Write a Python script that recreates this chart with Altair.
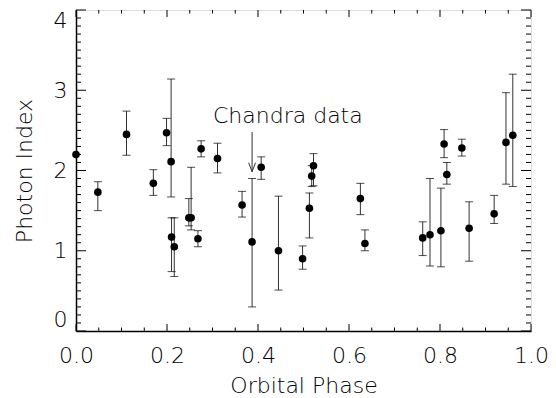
import altair as alt
import pandas as pd
import numpy as np

# ---- data ----
phase = [0.000, 0.048, 0.111, 0.170, 0.199, 0.209, 0.210, 0.216, 0.248, 0.253,
         0.268, 0.275, 0.311, 0.365, 0.387, 0.407, 0.445, 0.498, 0.513, 0.518,
         0.522, 0.625, 0.635, 0.762, 0.778, 0.802, 0.809, 0.815, 0.848, 0.864,
         0.919, 0.945, 0.960]
photon_index = [2.20, 1.73, 2.45, 1.84, 2.47, 2.11, 1.17, 1.05, 1.41, 1.41,
                1.15, 2.27, 2.15, 1.57, 1.11, 2.04, 1.00, 0.90, 1.53, 1.93,
                2.06, 1.65, 1.09, 1.16, 1.20, 1.25, 2.33, 1.95, 2.28, 1.28,
                1.46, 2.35, 2.44]
err_low = [None, 1.50, 2.19, 1.69, 2.31, 1.67, 0.74, 0.68, 1.31, 1.26,
           1.05, 2.17, 1.97, 1.42, 0.30, 1.89, 0.51, 0.77, 1.16, 1.80,
           1.81, 1.45, 1.00, 0.94, 0.81, 0.80, 2.16, 1.83, 2.18, 0.87,
           1.34, 1.83, 1.80]
err_high = [None, 1.86, 2.74, 2.01, 2.65, 3.14, 1.41, 1.41, 1.65, 2.04,
            1.25, 2.37, 2.34, 1.74, 1.90, 2.17, 1.68, 1.06, 1.72, 2.06,
            2.21, 1.84, 1.26, 1.36, 1.90, 1.78, 2.51, 2.10, 2.39, 1.61,
            1.69, 2.97, 3.20]

x_major = [0.0, 0.2, 0.4, 0.6, 0.8, 1.0]
y_major = [0, 1, 2, 3, 4]
x_minor = [round(v, 2) for v in np.arange(0.05, 1.0, 0.05) if round(v * 20) % 4 != 0]
y_minor = [round(v, 1) for v in np.arange(0.1, 4.0, 0.1) if round(v * 10) % 10 != 0]

annot_text = ["Chandra data"]
annot_phase = [0.301]
annot_value = [2.59]
arrow_phase = [0.387]
arrow_top = [2.48]
arrow_tip = [1.985]

# ---- tables ----
points = pd.DataFrame({"phase": phase, "value": photon_index,
                       "lower": err_low, "upper": err_high})
bars = points.dropna()
xmaj = pd.DataFrame({"phase": x_major})
xmin = pd.DataFrame({"phase": x_minor})
ymaj = pd.DataFrame({"value": y_major})
ymin = pd.DataFrame({"value": y_minor})
annot = pd.DataFrame({"phase": annot_phase, "value": annot_value, "label": annot_text})
arrow = pd.DataFrame({"phase": arrow_phase, "value": arrow_top, "tip": arrow_tip})

W, H = 455, 321
FONT = "DejaVu Sans"
FW = 200
TXT = "black"

xs = alt.Scale(domain=[0, 1], nice=False, zero=False)
ys = alt.Scale(domain=[0, 4], nice=False, zero=False)

x_axis = alt.Axis(values=x_major, format=".1f", title="Orbital Phase",
                  ticks=False, tickSize=0, grid=False, domain=True,
                  domainColor="black", domainWidth=1.5,
                  labelFont=FONT, labelFontSize=22, labelFontWeight=FW, labelColor=TXT,
                  labelPadding=14, labelFlush=False,
                  titleFont=FONT, titleFontSize=22, titleFontWeight=FW,
                  titleColor=TXT, titleY=61, titleBaseline="alphabetic")
y_axis = alt.Axis(values=y_major, format="d", title="Photon Index",
                  ticks=False, tickSize=0, grid=False, domain=True,
                  domainColor="black", domainWidth=1.5,
                  labelFont=FONT, labelFontSize=22, labelFontWeight=FW, labelColor=TXT,
                  labelPadding=9, labelFlush=True,
                  titleFont=FONT, titleFontSize=22, titleFontWeight=FW,
                  titleColor=TXT, titleX=-52, titleBaseline="middle")


def X(field="phase"):
    return alt.X(f"{field}:Q", scale=xs, axis=x_axis)


def Y(field="value"):
    return alt.Y(f"{field}:Q", scale=ys, axis=y_axis)


dots = alt.Chart(points).mark_circle(size=58, color="black", opacity=1).encode(
    x=X(), y=Y())

err_lines = alt.Chart(bars).mark_rule(color="#333333", strokeWidth=1).encode(
    x=X(), y=Y("lower"), y2="upper:Q")
cap_lo = alt.Chart(bars).mark_tick(orient="horizontal", size=8, thickness=1,
                                   color="black").encode(x=X(), y=Y("lower"))
cap_hi = alt.Chart(bars).mark_tick(orient="horizontal", size=8, thickness=1,
                                   color="black").encode(x=X(), y=Y("upper"))


# inward ticks on all four sides
def xticks(df, length):
    bottom = alt.Chart(df).mark_rule(color="black", strokeWidth=1).encode(
        x=X(), y=alt.value(H), y2=alt.value(H - length))
    top = alt.Chart(df).mark_rule(color="black", strokeWidth=1).encode(
        x=X(), y=alt.value(0), y2=alt.value(length))
    return [bottom, top]


def yticks(df, length):
    left = alt.Chart(df).mark_rule(color="black", strokeWidth=1).encode(
        y=Y(), x=alt.value(0), x2=alt.value(length))
    right = alt.Chart(df).mark_rule(color="black", strokeWidth=1).encode(
        y=Y(), x=alt.value(W), x2=alt.value(W - length))
    return [left, right]


tick_layers = xticks(xmaj, 7) + xticks(xmin, 3.5) + yticks(ymaj, 10) + yticks(ymin, 5)

label = alt.Chart(annot).mark_text(font=FONT, fontSize=22, fontWeight=FW, color=TXT,
                                   align="left", baseline="alphabetic").encode(
    x=X(), y=Y(), text="label:N")

arrow_line = alt.Chart(arrow).mark_rule(color="#333333", strokeWidth=1).encode(
    x=X(), y=Y(), y2="tip:Q")
arrow_head = alt.Chart(arrow).mark_point(
    shape="M -0.38 -1 L 0 0 L 0.38 -1", size=324, filled=False,
    color="#333333", strokeWidth=1, opacity=1).encode(x=X(), y=Y("tip"))

chart = alt.layer(
    err_lines, cap_lo, cap_hi, *tick_layers, dots, label, arrow_line, arrow_head
).properties(
    width=W, height=H,
    autosize=alt.AutoSizeParams(type="none"),
    padding={"left": 68, "top": 2, "right": 17, "bottom": 65},
).configure_view(stroke="black", strokeWidth=1).configure(background="white")

chart.save("out.html", embed_options={"renderer": "svg", "actions": False})
